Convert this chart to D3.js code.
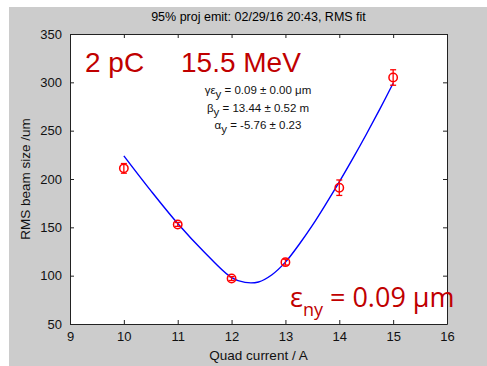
<!DOCTYPE html>
<html>
<head>
<meta charset="utf-8">
<script src="https://cdn.jsdelivr.net/npm/d3@7"></script>
<style>
  body { margin: 0; background: #fff; }
  svg text { font-family: "Liberation Sans", Arial, sans-serif; }
</style>
</head>
<body>
<svg width="487" height="366"></svg>
<script>
// measured data
const currents = [10, 11, 12, 13, 14, 15];
const beamSizes = [211, 153, 97, 114, 191, 305];
const beamErrors = [5, 2, 2, 3, 8, 8];

// fit line
const fitX = [10, 10.5, 11, 11.5, 12, 12.25, 12.5, 12.75, 13, 13.25, 13.5, 13.75, 14, 14.25, 14.5, 14.75, 15];
const fitY = [224, 188, 154, 124, 98, 93, 93.5, 101, 114, 132, 152, 174, 197, 221, 246, 272, 299];

const xTicks = [9, 10, 11, 12, 13, 14, 15, 16];
const yTicks = [50, 100, 150, 200, 250, 300, 350];

const svg = d3.select('svg');
const width = +svg.attr('width');
const height = +svg.attr('height');
const margin = { left: 70, top: 34, right: 40, bottom: 42 };
const innerWidth = width - margin.left - margin.right;
const innerHeight = height - margin.top - margin.bottom;

// grey figure background
svg.append('rect')
  .attr('x', 9).attr('y', 7)
  .attr('width', width - 9).attr('height', height - 7)
  .attr('fill', '#cccccc');

svg.append('text')
  .attr('x', margin.left + innerWidth / 2)
  .attr('y', 21)
  .attr('text-anchor', 'middle')
  .attr('font-size', 12.5)
  .text('95% proj emit: 02/29/16 20:43, RMS fit');

const g = svg.append('g')
  .attr('transform', `translate(${margin.left}, ${margin.top})`);

g.append('rect')
  .attr('width', innerWidth).attr('height', innerHeight)
  .attr('fill', '#fff');

const xScale = d3.scaleLinear().domain([9, 16]).range([0, innerWidth]);
const yScale = d3.scaleLinear().domain([50, 350]).range([innerHeight, 0]);

// axes, matlab style: inward ticks on all sides
const xAxis = d3.axisBottom(xScale).tickValues(xTicks).tickFormat(d3.format('d'))
  .tickSizeInner(-4).tickSizeOuter(0).tickPadding(8);
const yAxis = d3.axisLeft(yScale).tickValues(yTicks).tickFormat(d3.format('d'))
  .tickSizeInner(-4).tickSizeOuter(0).tickPadding(8);
const xTop = d3.axisTop(xScale).tickValues(xTicks).tickSizeInner(-4).tickSizeOuter(0).tickFormat('');
const yRight = d3.axisRight(yScale).tickValues(yTicks).tickSizeInner(-4).tickSizeOuter(0).tickFormat('');

const styleAxis = sel => {
  sel.selectAll('.domain').attr('stroke', '#222');
  sel.selectAll('.tick line').attr('stroke', '#222');
  sel.selectAll('.tick text').attr('font-size', 13).attr('fill', '#111')
    .style('font-family', '"Liberation Sans", Arial, sans-serif');
};

g.append('g').attr('transform', `translate(0, ${innerHeight})`).call(xAxis).call(styleAxis);
g.append('g').call(yAxis).call(styleAxis);
g.append('g').call(xTop).call(styleAxis);
g.append('g').attr('transform', `translate(${innerWidth}, 0)`).call(yRight).call(styleAxis);

// axis labels
g.append('text')
  .attr('x', innerWidth / 2)
  .attr('y', innerHeight + 36)
  .attr('text-anchor', 'middle')
  .attr('font-size', 13.5)
  .attr('fill', '#111')
  .text('Quad current / A');

g.append('text')
  .attr('transform', `translate(-40, ${innerHeight / 2}) rotate(-90)`)
  .attr('text-anchor', 'middle')
  .attr('font-size', 13.5)
  .attr('fill', '#111')
  .text('RMS beam size /um');

// fit curve
const fitData = fitX.map((x, i) => ({ x, y: fitY[i] }));
const line = d3.line()
  .x(d => xScale(d.x))
  .y(d => yScale(d.y))
  .curve(d3.curveCatmullRom);

g.append('path')
  .datum(fitData)
  .attr('d', line)
  .attr('fill', 'none')
  .attr('stroke', '#0000ff')
  .attr('stroke-width', 1.4);

// data points with error bars
const points = currents.map((c, i) => ({ x: c, y: beamSizes[i], e: beamErrors[i] }));
const pt = g.selectAll('.pt').data(points).enter().append('g').attr('class', 'pt');

pt.append('line')
  .attr('x1', d => xScale(d.x)).attr('x2', d => xScale(d.x))
  .attr('y1', d => yScale(d.y - d.e)).attr('y2', d => yScale(d.y + d.e));
pt.append('line')
  .attr('x1', d => xScale(d.x) - 3).attr('x2', d => xScale(d.x) + 3)
  .attr('y1', d => yScale(d.y + d.e)).attr('y2', d => yScale(d.y + d.e));
pt.append('line')
  .attr('x1', d => xScale(d.x) - 3).attr('x2', d => xScale(d.x) + 3)
  .attr('y1', d => yScale(d.y - d.e)).attr('y2', d => yScale(d.y - d.e));
pt.selectAll('line').attr('stroke', '#ff0000').attr('stroke-width', 1.3);

pt.append('circle')
  .attr('cx', d => xScale(d.x))
  .attr('cy', d => yScale(d.y))
  .attr('r', 4.2)
  .attr('fill', 'none')
  .attr('stroke', '#ff0000')
  .attr('stroke-width', 1.5);

// big red annotations
const red = '#c00000';
g.append('text')
  .attr('x', 15).attr('y', 38)
  .attr('font-size', 28).attr('fill', red)
  .text('2 pC');
g.append('text')
  .attr('x', 111).attr('y', 38)
  .attr('font-size', 28).attr('fill', red)
  .text('15.5 MeV');

// fit parameters
const params = [
  ['γε', ' = 0.09 ± 0.00 μm'],
  ['β', ' = 13.44 ± 0.52 m'],
  ['α', ' = -5.76 ± 0.23']
];
params.forEach((p, i) => {
  const t = g.append('text')
    .attr('x', 188).attr('y', 60 + i * 17.5)
    .attr('text-anchor', 'middle')
    .attr('font-size', 11.5)
    .attr('fill', '#111');
  t.append('tspan').text(p[0]);
  t.append('tspan').attr('dy', 4).text('y');
  t.append('tspan').attr('dy', -4).text(p[1]);
});

// emittance label
const em = g.append('text')
  .attr('x', 220).attr('y', 273)
  .attr('font-size', 27).attr('fill', red)
  .style('font-family', '"Open Sans", "Noto Sans", sans-serif');
em.append('tspan').text('ε');
em.append('tspan').attr('dy', 9).attr('font-size', 18).text('ny');
em.append('tspan').attr('dy', -9).text(' = 0.09 μm');
</script>
</body>
</html>
